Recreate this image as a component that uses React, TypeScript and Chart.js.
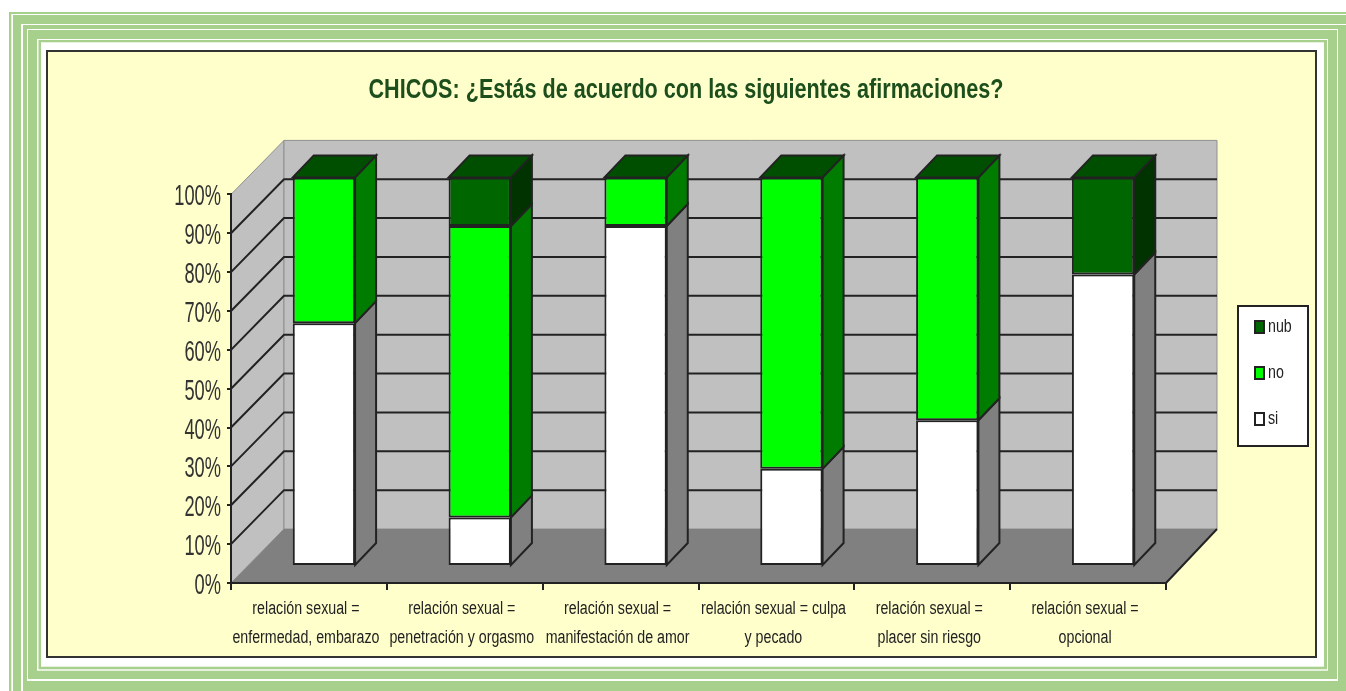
import React, { useEffect, useRef } from "react";
import { Chart, registerables } from "chart.js";

Chart.register(...registerables);

const TITLE = "CHICOS: ¿Estás de acuerdo con las siguientes afirmaciones?";
const CATEGORIES = [
  ["relación sexual =", "enfermedad, embarazo"],
  ["relación sexual =", "penetración y orgasmo"],
  ["relación sexual =", "manifestación de amor"],
  ["relación sexual = culpa", "y pecado"],
  ["relación sexual =", "placer sin riesgo"],
  ["relación sexual =", "opcional"],
];
const SI = [62.5, 12.5, 87.5, 25, 37.5, 75];
const NO = [37.5, 75, 12.5, 75, 62.5, 0];
const NUB = [0, 12.5, 0, 0, 0, 25];

const FONT = "'Liberation Sans', Arial, sans-serif";
const INK = "#222222";
const GREEN = "#a8d08d";
const W = 1346;
const H = 691;
const DEPTH_X = 53;
const DEPTH_Y = 54;
const BAR_SHIFT_X = 15;
const BAR_SHIFT_Y = -17;
const BAR_DEPTH_X = 21;
const BAR_DEPTH_Y = 22;
const FACES = [
  { side: "#808080", top: "#a0a0a0" },
  { side: "#007c00", top: "#004f00" },
  { side: "#003300", top: "#004f00" },
];
// The reference text is horizontally squeezed; width factor by font size.
const SQUEEZE: Record<string, number> = { "18": 0.79, "27": 0.8, "29": 0.63 };

const poly = (ctx: CanvasRenderingContext2D, pts: number[][], fill: string, stroke: string, lw = 1.5) => {
  ctx.beginPath();
  pts.forEach((p, i) => (i ? ctx.lineTo(p[0], p[1]) : ctx.moveTo(p[0], p[1])));
  ctx.closePath();
  ctx.fillStyle = fill;
  ctx.fill();
  if (stroke) {
    ctx.strokeStyle = stroke;
    ctx.lineWidth = lw;
    ctx.stroke();
  }
};

const framePlugin = {
  id: "frame",
  afterLayout(chart: any) {
    // centre the title over the reference's position
    if (chart.titleBlock) {
      chart.titleBlock.left += 28;
      chart.titleBlock.right += 28;
    }
  },
  beforeDraw(chart: any) {
    const ctx: CanvasRenderingContext2D = chart.ctx;
    const { x, y } = chart.scales;
    const l = x.left;
    const r = x.right;
    const t = y.top;
    const b = y.bottom;
    ctx.save();
    ctx.fillStyle = "#ffffff";
    ctx.fillRect(0, 0, W, H);
    const rings = [
      [9, 12, W, H, GREEN],
      [11.3, 14, W, H, "#ffffff"],
      [13, 15, W, H, GREEN],
      [21, 24, W, H, "#ffffff"],
      [23, 25, W, H, GREEN],
      [27, 29, 1338, 681, "#ffffff"],
      [28, 30, 1337, 679, GREEN],
      [37, 39, 1328, 670.7, "#ffffff"],
      [38.5, 40, 1327, 669.3, GREEN],
      [41, 42.3, 1324, 666.7, "#ffffff"],
    ] as const;
    rings.forEach(([x0, y0, x1, y1, c]) => {
      ctx.fillStyle = c;
      ctx.fillRect(x0, y0, x1 - x0, y1 - y0);
    });
    ctx.fillStyle = "#ffffcc";
    ctx.strokeStyle = "#333333";
    ctx.lineWidth = 2;
    ctx.fillRect(47, 51, 1269, 606);
    ctx.strokeRect(47, 51, 1269, 606);

    // walls and floor
    poly(ctx, [[l, t], [l + DEPTH_X, t - DEPTH_Y], [l + DEPTH_X, b - DEPTH_Y], [l, b]], "#c0c0c0", "#8f8f8f", 1);
    poly(ctx, [[l + DEPTH_X, t - DEPTH_Y], [r + DEPTH_X - 2, t - DEPTH_Y], [r + DEPTH_X - 2, b - DEPTH_Y], [l + DEPTH_X, b - DEPTH_Y]], "#c0c0c0", "#8f8f8f", 1);
    // grid on the walls, from the value scale
    y.ticks.forEach((tk: any) => {
      if (tk.value === 0 || tk.value === 100) return;
      const py = y.getPixelForValue(tk.value);
      ctx.beginPath();
      ctx.moveTo(l, py);
      ctx.lineTo(l + DEPTH_X, py - DEPTH_Y);
      ctx.lineTo(r + DEPTH_X - 2, py - DEPTH_Y);
      ctx.strokeStyle = INK;
      ctx.lineWidth = 2;
      ctx.stroke();
    });
    poly(ctx, [[l, b], [r, b], [r + DEPTH_X - 2, b - DEPTH_Y], [l + DEPTH_X, b - DEPTH_Y]], "#808080", "");
    ctx.beginPath();
    ctx.moveTo(r, b);
    ctx.lineTo(r + DEPTH_X - 2, b - DEPTH_Y);
    ctx.strokeStyle = INK;
    ctx.lineWidth = 2;
    ctx.stroke();
    ctx.restore();
  },
};

const bars3dPlugin = {
  id: "bars3d",
  beforeDatasetsDraw(chart: any) {
    const ctx: CanvasRenderingContext2D = chart.ctx;
    ctx.save();
    ctx.translate(BAR_SHIFT_X, BAR_SHIFT_Y);
    const n = chart.data.labels.length;
    for (let c = 0; c < n; c++) {
      let topDs = -1;
      chart.data.datasets.forEach((d: any, i: number) => {
        if (!(d.data[c] > 0)) return;
        topDs = i;
        const el = chart.getDatasetMeta(i).data[c];
        const rx = el.x + el.width / 2;
        poly(ctx, [[rx, el.y], [rx + BAR_DEPTH_X, el.y - BAR_DEPTH_Y], [rx + BAR_DEPTH_X, el.base - BAR_DEPTH_Y], [rx, el.base]], FACES[i].side, INK, 2);
      });
      const el = chart.getDatasetMeta(topDs).data[c];
      const lx = el.x - el.width / 2;
      const rx = el.x + el.width / 2;
      poly(ctx, [[lx, el.y], [lx + BAR_DEPTH_X, el.y - BAR_DEPTH_Y], [rx + BAR_DEPTH_X, el.y - BAR_DEPTH_Y], [rx, el.y]], FACES[topDs].top, INK, 2);
    }
  },
  afterDatasetsDraw(chart: any) {
    chart.ctx.restore();
  },
};

const legendPlugin = {
  id: "boxLegend",
  afterDraw(chart: any) {
    const ctx: CanvasRenderingContext2D = chart.ctx;
    ctx.save();
    ctx.fillStyle = "#ffffff";
    ctx.strokeStyle = INK;
    ctx.lineWidth = 2;
    ctx.fillRect(1238, 306, 70, 140);
    ctx.strokeRect(1238, 306, 70, 140);
    ctx.font = `18px ${FONT}`;
    ctx.textBaseline = "middle";
    const list = [...chart.data.datasets].reverse();
    list.forEach((d: any, i: number) => {
      const cy = 327 + i * 46;
      ctx.fillStyle = d.backgroundColor;
      ctx.strokeStyle = INK;
      ctx.lineWidth = 2;
      ctx.fillRect(1255, cy - 6, 9, 12);
      ctx.strokeRect(1255, cy - 6, 9, 12);
      ctx.fillStyle = INK;
      ctx.fillText(d.label, 1268, cy);
    });
    ctx.restore();
  },
};

export default function App() {
  const ref = useRef<HTMLCanvasElement>(null);
  useEffect(() => {
    const canvas = ref.current!;
    const ctx = canvas.getContext("2d") as any;
    const nativeFillText = CanvasRenderingContext2D.prototype.fillText;
    ctx.fillText = function (text: string, px: number, py: number) {
      const m = /(\d+(?:\.\d+)?)px/.exec(ctx.font);
      const k = m ? SQUEEZE[m[1]] : undefined;
      if (!k) return nativeFillText.call(ctx, text, px, py);
      ctx.save();
      ctx.translate(px, py);
      ctx.scale(k, 1);
      nativeFillText.call(ctx, text, 0, 0);
      ctx.restore();
    };
    const chart = new Chart(canvas, {
      type: "bar",
      data: {
        labels: CATEGORIES,
        datasets: [
          { label: "si", data: SI, backgroundColor: "#ffffff" },
          { label: "no", data: NO, backgroundColor: "#00ff00" },
          { label: "nub", data: NUB, backgroundColor: "#006600" },
        ].map((d) => ({
          ...d,
          borderColor: INK,
          borderWidth: 2,
          borderSkipped: false,
          barPercentage: 0.4,
          categoryPercentage: 1,
        })),
      },
      options: {
        responsive: false,
        animation: false,
        devicePixelRatio: 1,
        layout: { autoPadding: false, padding: { left: 150, right: 180, top: 0, bottom: 28 } },
        plugins: {
          legend: { display: false },
          tooltip: { enabled: false },
          title: {
            display: true,
            text: TITLE,
            color: "#1c4f1c",
            font: { family: FONT, size: 27, weight: "bold", lineHeight: 1.2 },
            padding: { top: 74.5, bottom: 87.5 },
          },
        },
        scales: {
          x: {
            stacked: true,
            afterFit: (s: any) => { s.height = 80; },
            grid: { offset: true, drawOnChartArea: false, drawTicks: true, tickLength: 7, color: INK, lineWidth: 2 },
            border: { display: true, color: INK, width: 2 },
            ticks: {
              color: INK,
              font: { family: FONT, size: 18, lineHeight: 1.6 },
              maxRotation: 0,
              autoSkip: false,
              padding: 5,
              labelOffset: -3,
            },
          },
          y: {
            stacked: true,
            min: 0,
            max: 100,
            afterFit: (s: any) => { s.width = 81; },
            grid: { drawOnChartArea: false, drawTicks: true, tickLength: 4, color: INK, lineWidth: 2 },
            border: { display: true, color: INK, width: 2 },
            ticks: {
              stepSize: 10,
              color: "#333333",
              font: { family: FONT, size: 29 },
              padding: 6,
              labelOffset: 3,
              callback: (v: any) => `${v}%`,
            },
          },
        },
      },
      plugins: [framePlugin, bars3dPlugin, legendPlugin],
    } as any);
    return () => {
      chart.destroy();
      delete ctx.fillText;
    };
  }, []);
  return (
    <div style={{ position: "fixed", left: 0, top: 0, width: W, height: H, overflow: "hidden" }}>
      <canvas ref={ref} width={W} height={H} style={{ display: "block" }} />
    </div>
  );
}
